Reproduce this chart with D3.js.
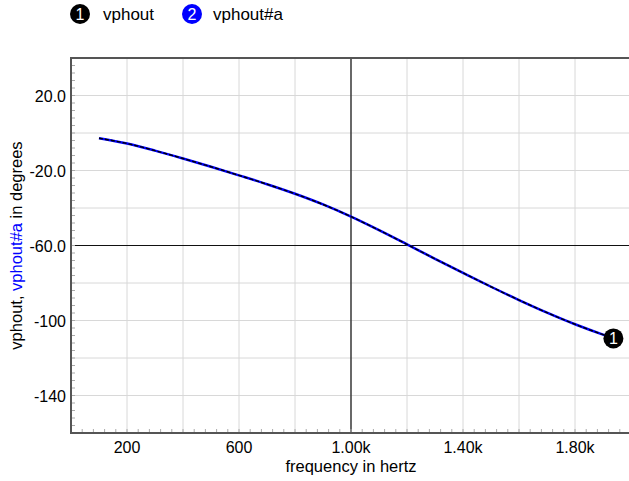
<!DOCTYPE html>
<html>
<head>
<meta charset="utf-8">
<script src="https://cdn.jsdelivr.net/npm/d3@7"></script>
<style>
    body { margin: 0; background: #fff; }
    text { font-family: "Liberation Sans", Arial, sans-serif; }
</style>
</head>
<body>
<svg id="chart" width="629" height="481"></svg>
<script>
// frequency (Hz) and phase (degrees)
var freqs = [100, 200, 300, 400, 500, 600, 700, 800, 900, 1000,
    1100, 1200, 1300, 1400, 1500, 1600, 1700, 1800, 1900, 1930];
var phase = [-2.8, -5.6, -9.4, -13.6, -18.0, -22.6, -27.3, -32.4, -38.1, -44.6,
    -51.8, -59.4, -67.1, -74.6, -82.0, -89.1, -95.8, -102.0, -107.5, -109.0];
var xTicks = [200, 600, 1000, 1400, 1800];
var xTickLabels = ['200', '600', '1.00k', '1.40k', '1.80k'];
var yTicks = [20, -20, -60, -100, -140];
var yTickLabels = ['20.0', '-20.0', '-60.0', '-100', '-140'];
var seriesNames = ['vphout', 'vphout#a'];

var svg = d3.select('#chart');
// note: "top" is window.top, so use other names
var pLeft = 71, pRight = 631, pTop = 58, pBottom = 433;

var x = d3.scaleLinear().domain([0, 2000]).range([pLeft, pRight]);
var y = d3.scaleLinear().domain([-160, 40]).range([pBottom, pTop]);

var plot = svg.append('g');

// light grid
plot.selectAll('.gx').data(d3.range(200, 2001, 200)).enter().append('line')
    .attr('x1', function (d) { return x(d); }).attr('x2', function (d) { return x(d); })
    .attr('y1', pTop).attr('y2', pBottom)
    .attr('stroke', '#d8d8d8').attr('stroke-width', 1);
plot.selectAll('.gy').data(d3.range(-140, 40, 20)).enter().append('line')
    .attr('x1', pLeft).attr('x2', 629)
    .attr('y1', function (d) { return y(d); }).attr('y2', function (d) { return y(d); })
    .attr('stroke', '#d8d8d8').attr('stroke-width', 1);

// dark centre lines
plot.append('line')
    .attr('x1', x(1000)).attr('x2', x(1000)).attr('y1', pTop).attr('y2', pBottom)
    .attr('stroke', '#111').attr('stroke-width', 1.2);
plot.append('line')
    .attr('x1', pLeft).attr('x2', 629).attr('y1', y(-60)).attr('y2', y(-60))
    .attr('stroke', '#111').attr('stroke-width', 1.2);

// minor ticks
plot.selectAll('.mx').data(d3.range(40, 2000, 40)).enter().append('line')
    .attr('x1', function (d) { return x(d); }).attr('x2', function (d) { return x(d); })
    .attr('y1', pBottom).attr('y2', pBottom - 4)
    .attr('stroke', '#aaa').attr('stroke-width', 1);
plot.selectAll('.my').data(d3.range(-156, 40, 4)).enter().append('line')
    .attr('x1', pLeft).attr('x2', pLeft + 4)
    .attr('y1', function (d) { return y(d); }).attr('y2', function (d) { return y(d); })
    .attr('stroke', '#aaa').attr('stroke-width', 1);

// frame
plot.append('path')
    .attr('d', 'M629,' + pTop + 'H' + pLeft + 'V' + pBottom + 'H629')
    .attr('fill', 'none').attr('stroke', '#555').attr('stroke-width', 2);

// tick labels
svg.selectAll('.xl').data(xTicks).enter().append('text')
    .attr('x', function (d) { return x(d); }).attr('y', 453)
    .attr('text-anchor', 'middle').attr('font-size', 16)
    .text(function (d, i) { return xTickLabels[i]; });
svg.selectAll('.yl').data(yTicks).enter().append('text')
    .attr('x', 66).attr('y', function (d) { return y(d) + 6; })
    .attr('text-anchor', 'end').attr('font-size', 16)
    .text(function (d, i) { return yTickLabels[i]; });

// axis titles
svg.append('text')
    .attr('x', 351).attr('y', 472).attr('text-anchor', 'middle').attr('font-size', 16.5)
    .text('frequency in hertz');
var yt = svg.append('text')
    .attr('transform', 'translate(22,' + (pTop + pBottom) / 2 + ') rotate(-90)')
    .attr('text-anchor', 'middle').attr('font-size', 16.5);
yt.append('tspan').text(seriesNames[0] + ', ');
yt.append('tspan').attr('fill', '#0000ff').text(seriesNames[1]);
yt.append('tspan').text(' in degrees');

// curves
var pts = freqs.map(function (f, i) { return [f, phase[i]]; });
var line = d3.line().curve(d3.curveMonotoneX)
    .x(function (d) { return x(d[0]); })
    .y(function (d) { return y(d[1]); });
plot.append('path').attr('d', line(pts))
    .attr('fill', 'none').attr('stroke', '#0000ff').attr('stroke-width', 2.5);
plot.append('path').attr('d', line(pts))
    .attr('fill', 'none').attr('stroke', '#000').attr('stroke-width', 1.4)
    .attr('stroke-dasharray', '4,2');

// end marker
var last = pts[pts.length - 1];
function badge(g, cx, cy, color, label) {
    g.append('circle').attr('cx', cx).attr('cy', cy).attr('r', 10).attr('fill', color);
    g.append('text').attr('x', cx).attr('y', cy + 6)
        .attr('text-anchor', 'middle').attr('font-size', 16).attr('fill', '#fff')
        .text(label);
}
badge(svg, x(last[0]) + 2, y(last[1]) + 1, '#000', '1');

// legend
badge(svg, 80, 14, '#000', '1');
svg.append('text').attr('x', 103).attr('y', 20).attr('font-size', 17).text(seriesNames[0]);
badge(svg, 192, 14, '#0000ff', '2');
svg.append('text').attr('x', 213).attr('y', 20).attr('font-size', 17).text(seriesNames[1]);
</script>
</body>
</html>
